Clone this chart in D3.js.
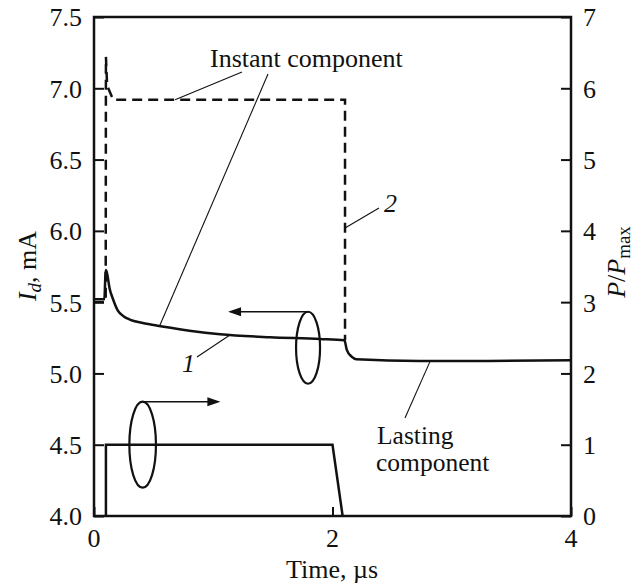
<!DOCTYPE html>
<html>
<head>
<meta charset="utf-8">
<script src="https://cdn.jsdelivr.net/npm/d3@7"></script>
<style>
  html, body { margin: 0; padding: 0; background: #fff; }
</style>
</head>
<body>
<svg id="chart" width="644" height="585" font-family="'Liberation Serif', 'Times New Roman', 'DejaVu Serif', serif"></svg>
<script>
// Time axis (µs), left axis I_d (mA), right axis P/Pmax
const timeTicks = [0, 2, 4];
const currentTicks = [4.0, 4.5, 5.0, 5.5, 6.0, 6.5, 7.0, 7.5];
const powerTicks = [0, 1, 2, 3, 4, 5, 6, 7];

// Curve 1: total current, solid (time µs, I_d mA)
const curve1 = [
  [0, 5.52], [0.087, 5.52], [0.095, 5.68], [0.1, 5.725], [0.11, 5.70],
  [0.13, 5.60], [0.162, 5.515], [0.2, 5.44], [0.25, 5.40], [0.3, 5.378],
  [0.4, 5.355], [0.5, 5.34], [0.6, 5.325], [0.8, 5.30], [1.057, 5.275],
  [1.476, 5.254], [1.895, 5.242], [2.1, 5.232], [2.12, 5.165], [2.16, 5.118],
  [2.2, 5.10], [2.73, 5.088], [3.3, 5.088], [4.0, 5.093]
];

// Curve 2: instant component, dashed (time µs, I_d mA)
const curve2 = [
  [0, 5.50], [0.098, 5.50], [0.1, 7.22], [0.11, 7.02], [0.16, 6.92],
  [2.105, 6.92], [2.105, 5.232]
];

// Light pulse, right axis (time µs, P/Pmax)
const pulse = [
  [0.1, 0], [0.1, 1], [2.0, 1], [2.085, 0]
];

const svg = d3.select("#chart");
const x = d3.scaleLinear().domain([0, 4]).range([94, 571]);
const yI = d3.scaleLinear().domain([4.0, 7.5]).range([516, 17]);
const yP = d3.scaleLinear().domain([0, 7]).range([516, 17]);

const FS = 26;
const INK = "#111";

// Curves
const line1 = d3.line().x(d => x(d[0])).y(d => yI(d[1])).curve(d3.curveMonotoneX);
const lineLin = d3.line().x(d => x(d[0])).y(d => yI(d[1]));
const lineP = d3.line().x(d => x(d[0])).y(d => yP(d[1]));

svg.append("path").attr("d", lineP(pulse))
  .attr("fill", "none").attr("stroke", INK).attr("stroke-width", 2.5);

svg.append("path").attr("d", lineLin(curve2))
  .attr("fill", "none").attr("stroke", INK).attr("stroke-width", 2.5)
  .attr("stroke-dasharray", "10,6");

svg.append("path").attr("d", line1(curve1))
  .attr("fill", "none").attr("stroke", INK).attr("stroke-width", 2.5);

// Axes (ticks pointing inward)
const gL = svg.append("g").attr("transform", `translate(${x(0)},0)`)
  .call(d3.axisRight(yI).tickValues(currentTicks).tickSize(10).tickFormat(""));
const gR = svg.append("g").attr("transform", `translate(${x(4)},0)`)
  .call(d3.axisLeft(yP).tickValues(powerTicks).tickSize(10).tickFormat(""));
const gB = svg.append("g").attr("transform", `translate(0,${yI(4.0)})`)
  .call(d3.axisTop(x).tickValues(timeTicks).tickSize(9).tickFormat(""));
[gL, gR, gB].forEach(g => {
  g.select(".domain").remove();
  g.selectAll(".tick line").attr("stroke", INK).attr("stroke-width", 2);
});

// Frame
svg.append("rect")
  .attr("x", x(0)).attr("y", yI(7.5))
  .attr("width", x(4) - x(0)).attr("height", yI(4.0) - yI(7.5))
  .attr("fill", "none").attr("stroke", INK).attr("stroke-width", 2.5);

// Tick labels
svg.append("g").selectAll("text").data(currentTicks).join("text")
  .attr("x", 82).attr("y", d => yI(d)).attr("dy", "0.36em")
  .attr("text-anchor", "end").attr("font-size", FS).attr("fill", INK)
  .text(d => d.toFixed(1));
svg.append("g").selectAll("text").data(powerTicks).join("text")
  .attr("x", 583).attr("y", d => yP(d)).attr("dy", "0.36em")
  .attr("text-anchor", "start").attr("font-size", FS).attr("fill", INK)
  .text(d => d);
svg.append("g").selectAll("text").data(timeTicks).join("text")
  .attr("x", d => x(d)).attr("y", 547)
  .attr("text-anchor", "middle").attr("font-size", FS).attr("fill", INK)
  .text(d => d);

// Axis titles
svg.append("text").attr("x", 332).attr("y", 578).attr("fill", INK)
  .attr("text-anchor", "middle").attr("font-size", FS).text("Time, µs");

const tL = svg.append("text")
  .attr("transform", "translate(36,266) rotate(-90)").attr("fill", INK)
  .attr("text-anchor", "middle").attr("font-size", FS);
tL.append("tspan").attr("font-style", "italic").text("I");
tL.append("tspan").attr("font-style", "italic").attr("font-size", 19).attr("dy", 5).text("d");
tL.append("tspan").attr("dy", -5).text(", mA");

const tR = svg.append("text")
  .attr("transform", "translate(625,262) rotate(-90)").attr("fill", INK)
  .attr("text-anchor", "middle").attr("font-size", FS);
tR.append("tspan").attr("font-style", "italic").text("P");
tR.append("tspan").text("/");
tR.append("tspan").attr("font-style", "italic").text("P");
tR.append("tspan").attr("font-size", 19).attr("dy", 5).text("max");

// Annotations
const thin = g => g.attr("stroke", INK).attr("stroke-width", 1.1).attr("fill", "none");

svg.append("text").attr("x", 210).attr("y", 67).attr("font-size", FS).attr("fill", INK)
  .text("Instant component");
svg.append("line").attr("x1", 242).attr("y1", 72).attr("x2", x(0.68)).attr("y2", yI(6.92)).call(thin);
svg.append("line").attr("x1", 268).attr("y1", 74).attr("x2", x(0.55)).attr("y2", yI(5.333)).call(thin);

svg.append("text").attr("x", 377).attr("y", 444).attr("font-size", 25.5).attr("fill", INK).text("Lasting");
svg.append("text").attr("x", 376).attr("y", 471).attr("font-size", 25.5).attr("fill", INK).text("component");
svg.append("line").attr("x1", 405).attr("y1", 418).attr("x2", x(2.82)).attr("y2", yI(5.088)).call(thin);

svg.append("text").attr("x", 182).attr("y", 372).attr("font-size", FS).attr("fill", INK)
  .attr("font-style", "italic").text("1");
svg.append("line").attr("x1", 197).attr("y1", 357).attr("x2", x(1.14)).attr("y2", yI(5.27)).call(thin);

svg.append("text").attr("x", 384).attr("y", 212).attr("font-size", FS).attr("fill", INK)
  .attr("font-style", "italic").text("2");
svg.append("line").attr("x1", 379).attr("y1", 208).attr("x2", x(2.105)).attr("y2", 228).call(thin);

// Axis-assignment markers: ellipse with arrow
function marker(cx, cy, rx, ry, xEnd) {
  svg.append("ellipse").attr("cx", cx).attr("cy", cy).attr("rx", rx).attr("ry", ry)
    .attr("fill", "none").attr("stroke", INK).attr("stroke-width", 2.2);
  const top = cy - ry;
  const dir = Math.sign(xEnd - cx);
  svg.append("line").attr("x1", cx).attr("y1", top).attr("x2", xEnd - dir * 10).attr("y2", top)
    .attr("stroke", INK).attr("stroke-width", 1.6);
  svg.append("path")
    .attr("d", `M${xEnd},${top} L${xEnd - dir * 13},${top - 4.5} L${xEnd - dir * 13},${top + 4.5} Z`)
    .attr("fill", INK);
}
marker(x(1.795), yI(5.18), 12, 36, x(1.124));
marker(x(0.408), yP(1.0), 13.3, 43, x(1.06));
</script>
</body>
</html>
